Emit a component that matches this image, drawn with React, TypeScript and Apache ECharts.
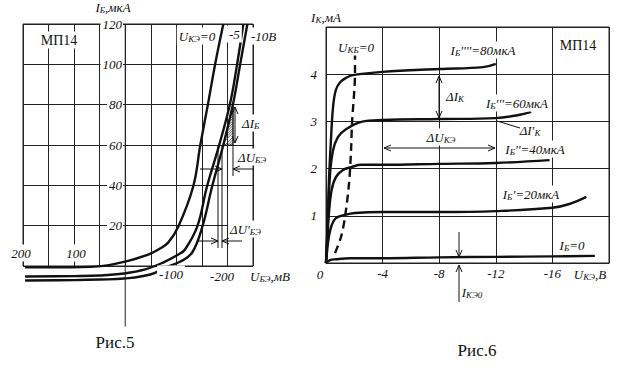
import React, { useEffect, useRef } from "react";
import * as echarts from "echarts";

const FONT = "Liberation Serif";
const INK = "#111";

// ---- Рис.5: входные характеристики, [U_БЭ, мВ ; I_Б, мкА] ----
const inUke0 = [[196, -0.7], [127, -0.7], [53, -0.2], [0, 2.2], [-45, 5.7], [-65, 8.2], [-84, 11.6], [-104, 19.6], [-133, 39.4], [-147, 60.1], [-162, 80.4], [-176, 100.2], [-192, 120]];
const inUke5 = [[196, -5.2], [100, -5.0], [49, -4.7], [2, -3.7], [-39, -1.7], [-74, 1.7], [-104, 5.7], [-117, 8.2], [-141, 19.6], [-160, 39.4], [-184, 60.1], [-205, 80.4], [-219, 100.2], [-231, 120]];
const inUke10 = [[196, -7.2], [100, -7.0], [49, -6.7], [2, -6.2], [-49, -4.2], [-84, -0.2], [-108, 2.2], [-131, 6.7], [-151, 19.6], [-170, 39.4], [-192, 60.1], [-211, 80.4], [-225, 100.2], [-239, 120]];
const fig5Axis = [[0, 120], [0, -30]];
const fig5Ticks = [20, 40, 60, 80, 100, 120];

// ---- Рис.6: выходные характеристики, [U_КЭ, В ; I_К, мА] ----
const outIb80 = [[0, 0], [-0.07, 0.49], [-0.2, 1.69], [-0.35, 2.61], [-0.5, 3.31], [-0.7, 3.67], [-1.0, 3.83], [-1.4, 3.92], [-1.9, 3.98], [-4, 4.05], [-8, 4.11], [-11.1, 4.15], [-12, 4.22]];
const outIb60 = [[0, 0], [-0.14, 0.91], [-0.28, 1.86], [-0.5, 2.39], [-0.85, 2.67], [-1.34, 2.82], [-2.5, 2.99], [-4, 3.03], [-8, 3.05], [-12, 3.07], [-13.7, 3.14], [-14.5, 3.2]];
const outIb40 = [[0, 0], [-0.07, 0.38], [-0.2, 1.02], [-0.4, 1.55], [-0.7, 1.82], [-1.2, 1.97], [-1.77, 2.03], [-2.5, 2.08], [-4, 2.08], [-8, 2.1], [-12, 2.12], [-15.8, 2.18]];
const outIb20 = [[0, 0], [-0.07, 0.23], [-0.2, 0.55], [-0.4, 0.8], [-0.7, 0.95], [-1.34, 1.02], [-2.05, 1.06], [-4, 1.08], [-8, 1.08], [-12, 1.1], [-16, 1.17], [-17.2, 1.25], [-18.4, 1.4]];
const outIb0 = [[0, 0], [-0.28, 0.06], [-0.7, 0.08], [-1.7, 0.1], [-4, 0.1], [-8, 0.12], [-12, 0.13], [-16, 0.14], [-19, 0.15]];
const outUkb0 = [[-0.64, 0.21], [-1.06, 0.55], [-1.34, 0.97], [-1.63, 1.69], [-1.77, 2.39], [-1.84, 2.97], [-2.05, 4.03], [-2.05, 4.41]];
const fig6XTicks = [-16, -12, -8, -4];
const fig6YTicks = [1, 2, 3, 4];

const rich = {
  i: { fontFamily: FONT, fontStyle: "italic", fontSize: 13, lineHeight: 15 },
  s: { fontFamily: FONT, fontStyle: "italic", fontSize: 9, lineHeight: 9, verticalAlign: "bottom" },
  r: { fontFamily: FONT, fontSize: 14, lineHeight: 15 },
};

function txt(x: number, y: number, text: string, align = "left", bg = false, extra: any = {}) {
  return {
    type: "text",
    x,
    y,
    z: 50,
    style: {
      text,
      rich,
      fill: INK,
      align,
      verticalAlign: "middle",
      fontFamily: FONT,
      fontStyle: "italic",
      fontSize: 13,
      backgroundColor: bg ? "#fff" : undefined,
      padding: bg ? [1, 2, 1, 2] : 0,
      ...extra,
    },
  };
}

function seg(x1: number, y1: number, x2: number, y2: number, w = 1) {
  return { type: "line", z: 40, shape: { x1, y1, x2, y2 }, style: { stroke: INK, lineWidth: w } };
}

function head(x1: number, y1: number, x2: number, y2: number, len = 7, hw = 3) {
  const dx = x2 - x1, dy = y2 - y1;
  const L = Math.hypot(dx, dy);
  const ux = dx / L, uy = dy / L;
  return {
    type: "polyline",
    z: 40,
    shape: {
      points: [
        [x2 - ux * len - uy * hw, y2 - uy * len + ux * hw],
        [x2, y2],
        [x2 - ux * len + uy * hw, y2 - uy * len - ux * hw],
      ],
    },
    style: { stroke: INK, lineWidth: 1, fill: null },
  };
}

function arrow(x1: number, y1: number, x2: number, y2: number) {
  return [seg(x1, y1, x2, y2), head(x1, y1, x2, y2)];
}
function dblArrow(x1: number, y1: number, x2: number, y2: number) {
  return [seg(x1, y1, x2, y2), head(x1, y1, x2, y2), head(x2, y2, x1, y1)];
}

function hatch() {
  const els: any[] = [
    { type: "polygon", z: 39, shape: { points: [[223, 145], [233, 104], [233, 145]] }, style: { fill: "none", stroke: INK, lineWidth: 0.8 } },
  ];
  for (let x0 = 225; x0 < 233; x0 += 2.6) {
    els.push(seg(x0, 145, 233, 145 - (233 - x0), 0.7));
  }
  for (let h = 3; h < 38; h += 3.2) {
    const xs = 223 + h * (10 / 41);
    const ye = 145 - h - (233 - xs);
    if (ye < 104) break;
    els.push(seg(xs, 145 - h, 233, ye, 0.7));
  }
  return els;
}

const curve = (data: number[][], xi: number, extra: any = {}) => ({
  type: "line",
  data,
  xAxisIndex: xi,
  yAxisIndex: xi,
  symbol: "none",
  smooth: 0.4,
  clip: false,
  lineStyle: { color: INK, width: 2.4 },
  z: 5,
  ...extra,
});

export default function App() {
  const ref = useRef<HTMLDivElement>(null);
  useEffect(() => {
    if (!ref.current) return;
    const chart = echarts.init(ref.current, null, { renderer: "svg" });
    const gridLine = { show: true, lineStyle: { color: "#222", width: 1 } };
    const graphics: any[] = [
      // Рис.5 texts
      txt(113, 7, "{i|I}{s|Б}{i|,мкА}", "center"),
      txt(59, 40, "{r|МП14}", "center", true),
      txt(197, 36, "{i|U}{s|КЭ}{i|=0}", "center", true),
      txt(227, 34, "{i|-5}", "left", true),
      txt(249, 36, "{i|-10В}", "left", true),
      txt(21, 253, "{i|200}", "center", true),
      txt(76, 253, "{i|100}", "center", true),
      txt(171, 274, "{i|-100}", "center", true),
      txt(222, 276, "{i|-200}", "center", true),
      txt(248, 276, "{i|U}{s|БЭ}{i|,мВ}", "left", true),
      txt(240, 123, "{i|ΔI}{s|Б}", "left", true),
      txt(236, 157, "{i|ΔU}{s|БЭ}", "left", true),
      txt(228, 229, "{i|ΔU'}{s|БЭ}", "left", true),
      txt(115, 342, "{r|Рис.5}", "center", false, { fontSize: 17, fontStyle: "normal", rich: { r: { fontFamily: FONT, fontSize: 17 } } }),
      ...hatch(),
      ...dblArrow(235, 107, 235, 143),
      seg(233, 104, 233, 176),
      seg(218, 145, 218, 248),
      seg(222, 145, 222, 248),
      ...arrow(200, 169, 222, 169),
      ...arrow(253, 169, 233, 169),
      ...arrow(197, 241, 218, 241),
      ...arrow(242, 241, 222, 241),
      // Рис.6 texts
      txt(326, 17, "{i|I}{s|К}{i|,мА}", "center"),
      txt(578, 45, "{r|МП14}", "center", true),
      txt(356, 47, "{i|U}{s|КБ}{i|=0}", "center", true),
      txt(483, 50, "{i|I}{s|Б}{i|''''=80мкА}", "center", true),
      txt(517, 103, "{i|I}{s|Б}{i|'''=60мкА}", "center", true),
      txt(535, 149, "{i|I}{s|Б}{i|''=40мкА}", "center", true),
      txt(531, 194, "{i|I}{s|Б}{i|'=20мкА}", "center", true),
      txt(572, 245, "{i|I}{s|Б}{i|=0}", "center", true),
      txt(455, 96, "{i|ΔI}{s|К}", "center", true),
      txt(441, 137, "{i|ΔU}{s|КЭ}", "center", true),
      txt(530, 130, "{i|ΔI'}{s|К}", "center", false),
      txt(472, 292, "{i|I}{s|КЭ0}", "center", false),
      txt(320, 274, "{i|0}", "center"),
      txt(590, 274, "{i|U}{s|КЭ}{i|,В}", "center", true),
      txt(477, 350, "{r|Рис.6}", "center", false, { fontSize: 17, fontStyle: "normal", rich: { r: { fontFamily: FONT, fontSize: 17 } } }),
      ...dblArrow(439, 76, 439, 118),
      ...dblArrow(384, 148, 495, 148),
      seg(497, 121, 520, 128),
      ...arrow(459, 232, 459, 257),
      ...arrow(459, 302, 459, 265),
    ];

    chart.setOption({
      animation: false,
      backgroundColor: "#fff",
      grid: [
        { left: 23, top: 24, width: 230, height: 242, show: true, borderColor: "#222", borderWidth: 1, containLabel: false },
        { left: 326, top: 27, width: 283, height: 236, show: true, borderColor: "#222", borderWidth: 1, containLabel: false },
      ],
      xAxis: [
        {
          type: "value", gridIndex: 0, inverse: true, min: -250, max: 200, interval: 50,
          axisLine: { show: false }, axisTick: { show: false }, axisLabel: { show: false }, splitLine: gridLine,
        },
        {
          type: "value", gridIndex: 1, inverse: true, min: -20, max: 0, interval: 4,
          axisLine: { show: true, lineStyle: { color: "#222" } }, axisTick: { show: false },
          axisLabel: {
            show: true, margin: 4, color: INK, fontFamily: FONT, fontStyle: "italic", fontSize: 13,
            formatter: (v: number) => (fig6XTicks.includes(v) ? String(v) : ""),
          },
          splitLine: gridLine,
        },
      ],
      yAxis: [
        {
          type: "value", gridIndex: 0, min: 0, max: 120, interval: 20,
          position: "left",
          offset: -102,
          axisLine: { show: false },
          axisTick: { show: false },
          axisLabel: {
            show: true, margin: 2, color: INK, fontFamily: FONT, fontStyle: "italic", fontSize: 13,
            backgroundColor: "#fff", padding: [0, 1, 0, 2],
            formatter: (v: number) => (fig5Ticks.includes(v) ? String(v) : ""),
          },
          splitLine: gridLine,
          z: 3,
        },
        {
          type: "value", gridIndex: 1, min: 0, max: 5, interval: 1,
          axisLine: { show: false }, axisTick: { show: false },
          axisLabel: {
            show: true, margin: 9, color: INK, fontFamily: FONT, fontStyle: "italic", fontSize: 13,
            formatter: (v: number) => (fig6YTicks.includes(v) ? String(v) : ""),
          },
          splitLine: gridLine,
        },
      ],
      series: [
        curve(fig5Axis, 0, { smooth: false, z: 4, lineStyle: { color: "#222", width: 1 } }),
        curve(inUke0, 0),
        curve(inUke5, 0),
        curve(inUke10, 0),
        curve(outIb80, 1),
        curve(outIb60, 1),
        curve(outIb40, 1),
        curve(outIb20, 1),
        curve(outIb0, 1),
        curve(outUkb0, 1, { smooth: 0.3, lineStyle: { color: INK, width: 2.4, type: [8, 5] } }),
      ],
      graphic: graphics,
    });
    return () => chart.dispose();
  }, []);
  return (
    <div
      ref={ref}
      style={{ position: "fixed", left: 0, top: 0, width: 626, height: 369, background: "#fff" }}
    />
  );
}
